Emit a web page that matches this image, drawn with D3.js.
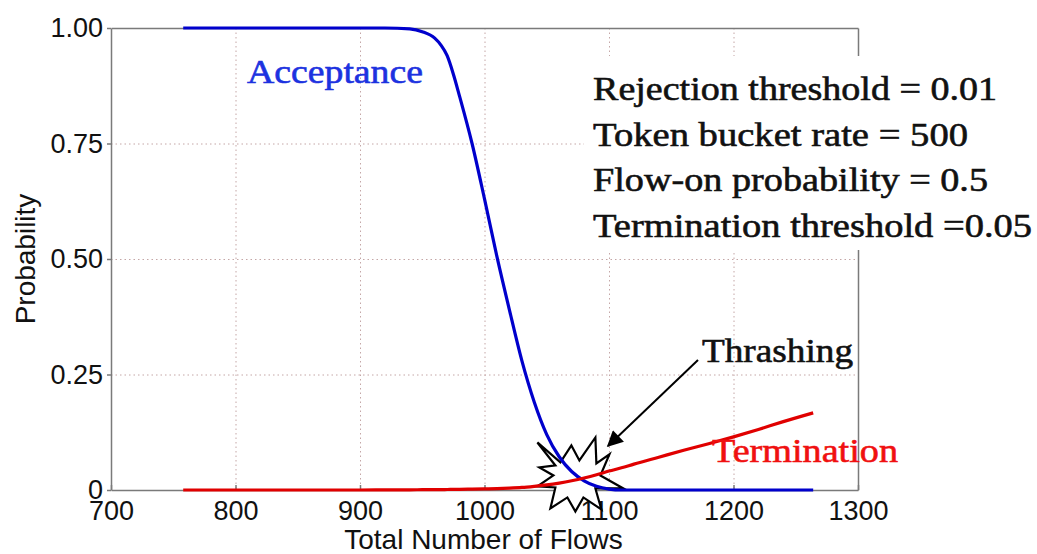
<!DOCTYPE html>
<html>
<head>
<meta charset="utf-8">
<title>Acceptance and termination probability</title>
<style>
  body { margin: 0; background: #fff; }
  svg { display: block; }
  .grid line { stroke: #c4a6a6; stroke-dasharray: 1.5,3; stroke-width: 1; }
  .grid .domain { display: none; }
  .axis text { font-family: "Liberation Sans", Arial, sans-serif; font-size: 27px; fill: #111; }
  .axis line, .axis path { stroke: #7a7a7a; stroke-width: 1.5; }
  .note { font-family: "Liberation Serif", "Times New Roman", serif; stroke-width: 0.6; }
</style>
</head>
<body>
<div id="viz"></div>
<script src="https://cdn.jsdelivr.net/npm/d3@7"></script>
<script>
// values
var flows = [758, 800, 850, 900, 920, 940, 950, 960, 965, 970, 975, 980, 990, 1000, 1010, 1020, 1030,
             1040, 1050, 1060, 1070, 1080, 1090, 1100, 1110, 1120, 1140, 1160, 1180, 1200, 1220, 1240, 1264];
var acceptance = [1, 1, 1, 1, 1, 0.998, 0.992, 0.978, 0.963, 0.94, 0.9, 0.852, 0.75, 0.63, 0.505, 0.39, 0.28,
                  0.19, 0.12, 0.072, 0.04, 0.02, 0.008, 0.002, 0, 0, 0, 0, 0, 0, 0, 0, 0];
var termination = [0, 0, 0, 0, 0.0002, 0.0004, 0.0006, 0.0008, 0.0009, 0.0011, 0.0013, 0.0015, 0.002, 0.0025, 0.003, 0.004, 0.0055,
                   0.008, 0.011, 0.015, 0.02, 0.026, 0.033, 0.041, 0.048, 0.056, 0.071, 0.086, 0.1, 0.115, 0.131, 0.148, 0.167];
var xTicks = [700, 800, 900, 1000, 1100, 1200, 1300];
var yTicks = [0, 0.25, 0.5, 0.75, 1];
var yTickLabels = ["0", "0.25", "0.50", "0.75", "1.00"];
var paramLines = ["Rejection threshold = 0.01", "Token bucket rate = 500",
                  "Flow-on probability = 0.5", "Termination threshold =0.05"];

(function() {
  var W = 1037, H = 554,
      margin = {top: 28, right: 179, bottom: 64, left: 111},
      width = W - margin.left - margin.right,
      height = H - margin.top - margin.bottom;

  var x = d3.scaleLinear().domain([700, 1300]).range([0, width]);
  var y = d3.scaleLinear().domain([0, 1]).range([height, 0]);

  var root = d3.select("#viz").append("svg")
      .attr("width", W)
      .attr("height", H);
  var svg = root.append("g")
      .attr("transform", "translate(" + margin.left + "," + margin.top + ")");

  // dotted grid
  svg.append("g").attr("class", "grid")
      .call(d3.axisBottom(x).tickValues(xTicks.slice(1, -1)).tickSize(height).tickFormat(""));
  svg.append("g").attr("class", "grid")
      .call(d3.axisLeft(y).tickValues(yTicks.slice(1, -1)).tickSize(-width).tickFormat(""));

  // axes + frame
  svg.append("g").attr("class", "axis")
      .attr("transform", "translate(0," + height + ")")
      .call(d3.axisBottom(x).tickValues(xTicks).tickSizeInner(-5).tickSizeOuter(0).tickPadding(11).tickFormat(d3.format("d")));
  svg.append("g").attr("class", "axis")
      .call(d3.axisLeft(y).tickValues(yTicks).tickSizeInner(4).tickSizeOuter(0).tickPadding(4)
        .tickFormat(function(d, i) { return yTickLabels[i]; }));
  svg.append("g").attr("class", "axis")
      .attr("transform", "translate(" + width + ",0)")
      .call(d3.axisRight(y).tickValues([]).tickSizeOuter(0));
  svg.append("g").attr("class", "axis")
      .call(d3.axisTop(x).tickValues([]).tickSizeOuter(0));

  svg.append("text")
      .attr("transform", "translate(" + (-76) + "," + (height / 2) + ") rotate(-90)")
      .attr("text-anchor", "middle")
      .style("font-family", "Liberation Sans, Arial, sans-serif")
      .style("font-size", "28px")
      .attr("fill", "#111")
      .text("Probability");
  svg.append("text")
      .attr("x", x(1000) - 1)
      .attr("y", height + 59)
      .attr("text-anchor", "middle")
      .style("font-family", "Liberation Sans, Arial, sans-serif")
      .style("font-size", "28px")
      .attr("fill", "#111")
      .text("Total Number of Flows");

  // white box behind the parameter list
  root.append("rect")
      .attr("x", 584).attr("y", 56).attr("width", 453).attr("height", 194)
      .attr("fill", "#fff");
  var lineW = [404, 375, 395, 439];
  root.selectAll(".param")
      .data(paramLines)
    .enter().append("text")
      .attr("class", "note param")
      .attr("x", 593)
      .attr("y", function(d, i) { return 100 + i * 45.5; })
      .attr("textLength", function(d, i) { return lineW[i]; })
      .attr("lengthAdjust", "spacingAndGlyphs")
      .style("font-size", "34px")
      .attr("fill", "#111").attr("stroke", "#111")
      .text(function(d) { return d; });

  // thrashing burst (anchored at the crossing point)
  var cx = x(1073), cy = y(0.025);
  var burst = [[-38,-36],[-15,-16],[-4,-33],[4,-18],[20,-41],[21,-15],[34,-24],[25,-3],[48,10],[20,10],
               [26,31],[8,19],[0,33],[-8,19],[-25,30],[-20,9],[-38,8],[-22,-3],[-36,-11],[-20,-13]];
  svg.append("path")
      .attr("d", d3.line()(burst.map(function(p) { return [cx + p[0], cy + p[1]]; })) + "Z")
      .attr("fill", "#fff")
      .attr("stroke", "#000")
      .attr("stroke-width", 2.2)
      .attr("stroke-linejoin", "miter");

  var line = d3.line().curve(d3.curveMonotoneX);
  svg.append("path")
      .attr("d", line(flows.map(function(f, i) { return [x(f), y(acceptance[i])]; })))
      .attr("fill", "none").attr("stroke", "#0000cc").attr("stroke-width", 3.2);
  svg.append("path")
      .attr("d", line(flows.map(function(f, i) { return [x(f), y(termination[i])]; })))
      .attr("fill", "none").attr("stroke", "#e00000").attr("stroke-width", 3.2);

  // labels
  root.append("text").attr("class", "note")
      .attr("x", 247).attr("y", 83)
      .attr("textLength", 176).attr("lengthAdjust", "spacingAndGlyphs")
      .style("font-size", "34px").attr("fill", "#1c32e0").attr("stroke", "#1c32e0")
      .text("Acceptance");
  root.append("text").attr("class", "note")
      .attr("x", 702).attr("y", 362)
      .attr("textLength", 151).attr("lengthAdjust", "spacingAndGlyphs")
      .style("font-size", "34px").attr("fill", "#111").attr("stroke", "#111")
      .text("Thrashing");
  root.append("text").attr("class", "note")
      .attr("x", 712).attr("y", 462)
      .attr("textLength", 186).attr("lengthAdjust", "spacingAndGlyphs")
      .style("font-size", "34px").attr("fill", "#f01010").attr("stroke", "#f01010")
      .text("Termination");

  // arrow to the burst
  root.append("defs").append("marker")
      .attr("id", "head").attr("viewBox", "0 0 10 10")
      .attr("refX", 9).attr("refY", 5)
      .attr("markerWidth", 18).attr("markerHeight", 16)
      .attr("markerUnits", "userSpaceOnUse")
      .attr("orient", "auto")
    .append("path").attr("d", "M0,0L10,5L0,10Z").attr("fill", "#000");
  root.append("line")
      .attr("x1", 698).attr("y1", 360)
      .attr("x2", 608).attr("y2", 446)
      .attr("stroke", "#000").attr("stroke-width", 2)
      .attr("marker-end", "url(#head)");
})();
</script>
</body>
</html>
